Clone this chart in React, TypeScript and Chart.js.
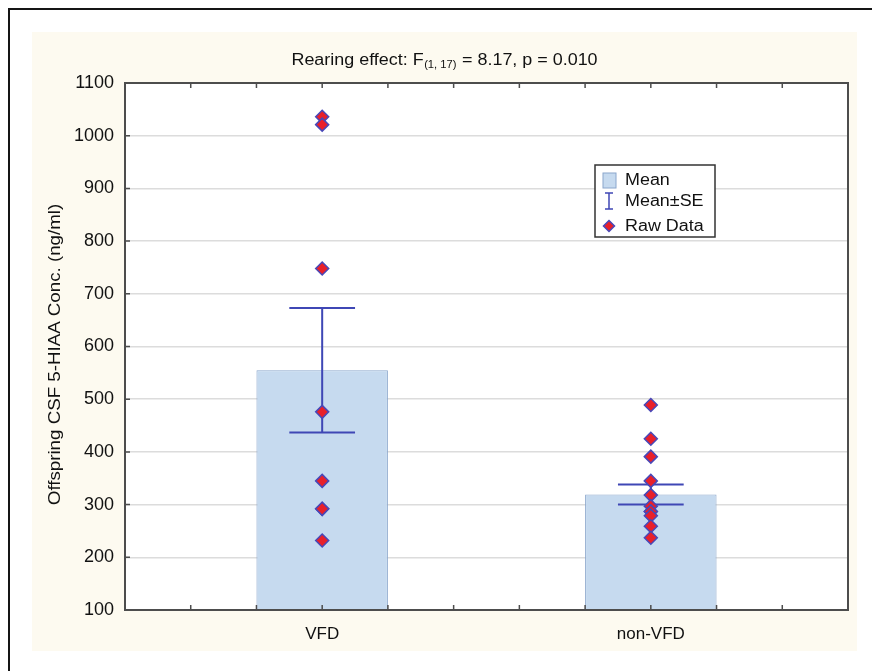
import React, { useEffect, useRef } from 'react';
import { Chart, registerables } from 'chart.js';

Chart.register(...registerables);

// ---------- data ----------
const categories = ['VFD', 'non-VFD'];
const categorySlots = [3, 8]; // position of each group on the 0–11 x axis
const xAxisMin = 0;
const xAxisMax = 11;
const means = [555, 319];
const standardErrors = [118, 19];
const rawVFD = [1036, 1021, 748, 476, 345, 292, 292, 232];
const rawNonVFD = [489, 425, 391, 345, 318, 297, 287, 287, 279, 259, 237];
const yAxisMin = 100;
const yAxisMax = 1100;
const yAxisStep = 100;

const titleMain = 'Rearing effect: F';
const titleSub = '(1, 17)';
const titleTail = ' = 8.17, p = 0.010';
const yAxisTitle = 'Offspring CSF 5-HIAA Conc. (ng/ml)';
const legendLabels = ['Mean', 'Mean±SE', 'Raw Data'];

// ---------- style ----------
const FONT = '"Liberation Sans", Arial, sans-serif';
const TEXT = '#111111';
const BAR_FILL = '#c6daef';
const BAR_BORDER = '#8aa6cc';
const ERR = '#3f47b5';
const PT_FILL = '#e8202a';
const PT_BORDER = '#4848b8';
const FRAME = '#4d4d4d';
const CREAM = '#fdfaf0';

function diamond(ctx: CanvasRenderingContext2D, x: number, y: number, r: number) {
  ctx.beginPath();
  ctx.moveTo(x, y - r);
  ctx.lineTo(x + r, y);
  ctx.lineTo(x, y + r);
  ctx.lineTo(x - r, y);
  ctx.closePath();
  ctx.fillStyle = PT_FILL;
  ctx.fill();
  ctx.lineWidth = 1.5;
  ctx.strokeStyle = PT_BORDER;
  ctx.stroke();
}

const decorPlugin = {
  id: 'decor',
  beforeDraw(chart: any) {
    const ctx: CanvasRenderingContext2D = chart.ctx;
    const { left, right, top, bottom } = chart.chartArea;
    ctx.save();
    ctx.fillStyle = '#ffffff';
    ctx.fillRect(left, top, right - left, bottom - top);
    ctx.restore();
  },
  afterDatasetDraw(chart: any, args: any) {
    if (args.index !== 0) return;
    const ctx: CanvasRenderingContext2D = chart.ctx;
    const xs = chart.scales.x;
    const ys = chart.scales.y;
    const unit = xs.getPixelForValue(1) - xs.getPixelForValue(0);
    ctx.save();
    ctx.strokeStyle = ERR;
    ctx.lineWidth = 2;
    categorySlots.forEach((slot, i) => {
      const cx = xs.getPixelForValue(slot);
      const top = ys.getPixelForValue(means[i] + standardErrors[i]);
      const bot = ys.getPixelForValue(means[i] - standardErrors[i]);
      const hw = unit / 2;
      ctx.beginPath();
      ctx.moveTo(cx, top);
      ctx.lineTo(cx, bot);
      ctx.moveTo(cx - hw, top);
      ctx.lineTo(cx + hw, top);
      ctx.moveTo(cx - hw, bot);
      ctx.lineTo(cx + hw, bot);
      ctx.stroke();
    });
    ctx.restore();
  },
  afterDatasetsDraw(chart: any) {
    const ctx: CanvasRenderingContext2D = chart.ctx;
    const { left, right, top, bottom } = chart.chartArea;
    const xs = chart.scales.x;
    const ys = chart.scales.y;
    ctx.save();
    // frame
    ctx.strokeStyle = FRAME;
    ctx.lineWidth = 2;
    ctx.strokeRect(left, top, right - left, bottom - top);
    // inward ticks
    ctx.lineWidth = 1.5;
    ctx.beginPath();
    for (let v = yAxisMin + yAxisStep; v < yAxisMax; v += yAxisStep) {
      const y = ys.getPixelForValue(v);
      ctx.moveTo(left, y);
      ctx.lineTo(left + 5, y);
    }
    for (let v = xAxisMin + 1; v < xAxisMax; v += 1) {
      const x = xs.getPixelForValue(v);
      ctx.moveTo(x, bottom);
      ctx.lineTo(x, bottom - 5);
      ctx.moveTo(x, top);
      ctx.lineTo(x, top + 5);
    }
    ctx.stroke();
    ctx.restore();
  },
  afterDraw(chart: any) {
    const ctx: CanvasRenderingContext2D = chart.ctx;
    const W = chart.width;
    ctx.save();
    ctx.fillStyle = TEXT;
    // title with subscript
    const S = 1.12;
    ctx.font = `16px ${FONT}`;
    const w1 = ctx.measureText(titleMain).width;
    const w3 = ctx.measureText(titleTail).width;
    ctx.font = `10px ${FONT}`;
    const w2 = ctx.measureText(titleSub).width + 1;
    const total = (w1 + w2 + w3) * S;
    ctx.save();
    ctx.translate(W / 2 - total / 2, 33);
    ctx.scale(S, 1);
    ctx.textBaseline = 'alphabetic';
    ctx.textAlign = 'left';
    ctx.font = `16px ${FONT}`;
    ctx.fillText(titleMain, 0, 0);
    ctx.font = `10px ${FONT}`;
    ctx.fillText(titleSub, w1 + 0.5, 3);
    ctx.font = `16px ${FONT}`;
    ctx.fillText(titleTail, w1 + w2, 0);
    ctx.restore();

    // y axis title
    const ca = chart.chartArea;
    ctx.save();
    ctx.translate(24, (ca.top + ca.bottom) / 2 + 8);
    ctx.rotate(-Math.PI / 2);
    ctx.scale(1.17, 1);
    ctx.font = `16px ${FONT}`;
    ctx.textAlign = 'center';
    ctx.textBaseline = 'middle';
    ctx.fillText(yAxisTitle, 0, 0);
    ctx.restore();

    // legend
    const lx = 563, ly = 133, lw = 120, lh = 72;
    ctx.fillStyle = '#ffffff';
    ctx.fillRect(lx, ly, lw, lh);
    ctx.strokeStyle = '#333333';
    ctx.lineWidth = 1.5;
    ctx.strokeRect(lx, ly, lw, lh);
    const rows = [ly + 15, ly + 36, ly + 61];
    const ix = lx + 14;
    // Mean icon
    ctx.fillStyle = BAR_FILL;
    ctx.fillRect(ix - 6, rows[0] - 7, 13, 15);
    ctx.strokeStyle = BAR_BORDER;
    ctx.lineWidth = 1;
    ctx.strokeRect(ix - 6, rows[0] - 7, 13, 15);
    // SE icon
    ctx.strokeStyle = ERR;
    ctx.lineWidth = 1.5;
    ctx.beginPath();
    ctx.moveTo(ix, rows[1] - 8);
    ctx.lineTo(ix, rows[1] + 8);
    ctx.moveTo(ix - 4, rows[1] - 8);
    ctx.lineTo(ix + 4, rows[1] - 8);
    ctx.moveTo(ix - 4, rows[1] + 8);
    ctx.lineTo(ix + 4, rows[1] + 8);
    ctx.stroke();
    // raw data icon
    diamond(ctx, ix, rows[2], 5.5);
    ctx.fillStyle = TEXT;
    ctx.font = `16px ${FONT}`;
    ctx.textAlign = 'left';
    ctx.textBaseline = 'middle';
    legendLabels.forEach((t, i) => {
      ctx.save();
      ctx.translate(lx + 30, rows[i] + 1);
      ctx.scale(1.12, 1);
      ctx.fillText(t, 0, 0);
      ctx.restore();
    });
    ctx.restore();
  },
};

export default function App() {
  const ref = useRef<HTMLCanvasElement>(null);
  useEffect(() => {
    if (!ref.current) return;
    const chart = new Chart(ref.current, {
      type: 'bar',
      data: {
        datasets: [
          {
            type: 'bar',
            label: 'Mean',
            data: categorySlots.map((x, i) => ({ x, y: means[i] })),
            backgroundColor: BAR_FILL,
            borderColor: BAR_BORDER,
            borderWidth: 1,
            barPercentage: 2,
            categoryPercentage: 1,
            order: 2,
          } as any,
          {
            type: 'scatter',
            label: 'Raw Data',
            data: [
              ...rawVFD.map((y) => ({ x: categorySlots[0], y })),
              ...rawNonVFD.map((y) => ({ x: categorySlots[1], y })),
            ],
            pointStyle: 'rectRot',
            pointRadius: 6.5,
            backgroundColor: PT_FILL,
            borderColor: PT_BORDER,
            borderWidth: 1.5,
            order: 0,
          } as any,
        ],
      },
      options: {
        responsive: false,
        animation: false,
        layout: { autoPadding: false, padding: { left: 0, right: 9, top: 51, bottom: 0 } },
        plugins: {
          legend: { display: false },
          tooltip: { enabled: false },
          title: { display: false },
        },
        scales: {
          x: {
            type: 'linear',
            min: xAxisMin,
            max: xAxisMax,
            offset: false,
            grid: { display: false, drawTicks: false },
            border: { display: false },
            ticks: {
              stepSize: 1,
              autoSkip: false,
              maxRotation: 0,
              padding: 14,
              color: TEXT,
              font: { family: FONT, size: 17 },
              callback: (v: any) => {
                const i = categorySlots.indexOf(Number(v));
                return i >= 0 ? categories[i] : '';
              },
            },
            afterFit: (s: any) => {
              s.height = 41;
              s.paddingLeft = 0;
              s.paddingRight = 0;
            },
          },
          y: {
            min: yAxisMin,
            max: yAxisMax,
            grid: { color: '#dcdcdc', lineWidth: 1.5, drawTicks: false },
            border: { display: false },
            ticks: {
              stepSize: yAxisStep,
              padding: 11,
              color: TEXT,
              font: { family: FONT, size: 18 },
              callback: (v: any) => String(v),
            },
            afterFit: (s: any) => {
              s.width = 93;
              s.paddingTop = 0;
              s.paddingBottom = 0;
            },
          },
        },
      } as any,
      plugins: [decorPlugin],
    });
    return () => chart.destroy();
  }, []);

  return (
    <div
      style={{
        position: 'fixed',
        left: 8,
        top: 8,
        width: 864,
        height: 663,
        borderTop: '2px solid #151515',
        borderLeft: '2px solid #151515',
        boxSizing: 'border-box',
        background: '#ffffff',
      }}
    >
      <div style={{ position: 'absolute', left: 22, top: 22, width: 825, height: 619, background: CREAM }}>
        <canvas ref={ref} width={825} height={619} style={{ display: 'block' }} />
      </div>
    </div>
  );
}
